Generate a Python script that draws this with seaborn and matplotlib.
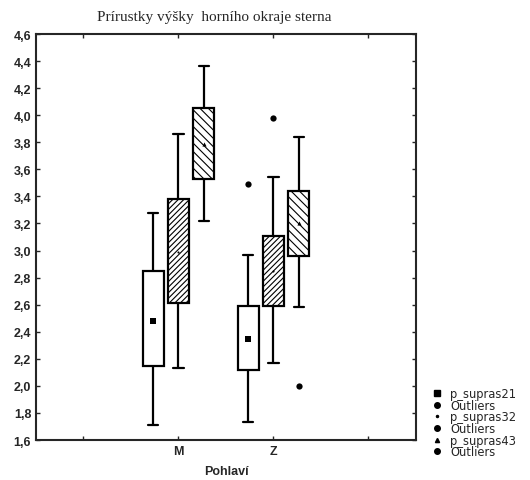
import numpy as np
import pandas as pd

import matplotlib
matplotlib.use('agg')

import matplotlib.pyplot as plt
from matplotlib.lines import Line2D
from matplotlib.ticker import FuncFormatter

import seaborn as sns

# Five-number summaries (whisker low, box low, centre, box high, whisker high)
groups = ['M', 'Z']
series = ['p_supras21', 'p_supras32', 'p_supras43']
p_supras21 = {'M': [1.71, 2.15, 2.48, 2.85, 3.28], 'Z': [1.73, 2.12, 2.35, 2.59, 2.97]}
p_supras32 = {'M': [2.13, 2.61, 2.99, 3.38, 3.86], 'Z': [2.17, 2.59, 2.85, 3.11, 3.54]}
p_supras43 = {'M': [3.22, 3.53, 3.79, 4.05, 4.36], 'Z': [2.58, 2.96, 3.20, 3.44, 3.84]}
# outliers (group, series, value)
out_group = ['Z', 'Z', 'Z']
out_series = ['p_supras21', 'p_supras32', 'p_supras43']
out_value = [3.49, 3.98, 2.00]

summaries = {'p_supras21': p_supras21, 'p_supras32': p_supras32, 'p_supras43': p_supras43}
rows = []
for s in series:
    for g in groups:
        for v in summaries[s][g]:
            rows.append({'Pohlavi': g, 'var': s, 'value': v})
df = pd.DataFrame(rows)
centres = df.groupby(['Pohlavi', 'var'], as_index=False)['value'].median()
outl = pd.DataFrame({'Pohlavi': out_group, 'var': out_series, 'value': out_value})

sns.set_style('ticks')
plt.rcParams['font.family'] = ['Liberation Sans', 'DejaVu Sans']
plt.rcParams['hatch.linewidth'] = 0.8

fig = plt.figure(figsize=(5.3, 4.81), dpi=100)
ax = fig.add_axes([36 / 530, 40 / 481, 380 / 530, 406 / 481])

hatches = {'p_supras21': '', 'p_supras32': '//////', 'p_supras43': '\\\\\\\\'}
markers = {'p_supras21': 's', 'p_supras32': '.', 'p_supras43': '^'}
msizes = {'p_supras21': 5, 'p_supras32': 3, 'p_supras43': 3}

for s in series:
    sub = df[df['var'] == s]
    sns.boxplot(data=sub, x='Pohlavi', y='value', hue='var', hue_order=series,
                order=groups, palette=['white'] * 3, linecolor='black', linewidth=1.6,
                whis=(0, 100), showfliers=False, dodge=True, gap=0.16, legend=False,
                ax=ax, boxprops=dict(hatch=hatches[s]),
                medianprops=dict(linewidth=0))
    sns.stripplot(data=centres[centres['var'] == s], x='Pohlavi', y='value', hue='var',
                  hue_order=series, order=groups, dodge=True, jitter=False,
                  palette=['black'] * 3, marker=markers[s], size=msizes[s],
                  linewidth=0, legend=False, ax=ax, zorder=5)
    sns.stripplot(data=outl[outl['var'] == s], x='Pohlavi', y='value', hue='var',
                  hue_order=series, order=groups, dodge=True, jitter=False,
                  palette=['black'] * 3, marker='o', size=4.5,
                  linewidth=0, legend=False, ax=ax, zorder=5)

ax.set_xlim(-1.5, 2.5)
ax.set_ylim(1.6, 4.6)
ax.set_xticks([-1, 0, 1, 2])
ax.set_xticklabels(['', 'M', 'Z', ''], fontweight='bold', fontsize=9)
ax.set_yticks(np.arange(1.6, 4.61, 0.2))
ax.yaxis.set_major_formatter(FuncFormatter(lambda v, p: f'{v:.1f}'.replace('.', ',')))
ax.tick_params(axis='both', direction='in', length=3, width=1, labelsize=9,
               top=True, right=True)
for lab in ax.get_yticklabels():
    lab.set_fontweight('bold')
for sp in ax.spines.values():
    sp.set_visible(True)
    sp.set_linewidth(1.5)
ax.set_xlabel('Pohlaví', fontsize=9, fontweight='bold', labelpad=6)
ax.set_ylabel('')
ax.set_title('Prírustky výšky  horního okraje sterna', fontfamily='Liberation Serif',
             fontsize=11, pad=10, x=0.47)

handles = [
    Line2D([], [], ls='none', marker='s', ms=4, color='black'),
    Line2D([], [], ls='none', marker='o', ms=4, color='black'),
    Line2D([], [], ls='none', marker='.', ms=3, color='black'),
    Line2D([], [], ls='none', marker='o', ms=4, color='black'),
    Line2D([], [], ls='none', marker='^', ms=3, color='black'),
    Line2D([], [], ls='none', marker='o', ms=4, color='black'),
]
labels = ['p_supras21', 'Outliers', 'p_supras32', 'Outliers', 'p_supras43', 'Outliers']
fig.legend(handles, labels, loc='lower left', bbox_to_anchor=(427 / 530, 16 / 481),
           frameon=False, prop={'family': 'DejaVu Sans', 'size': 8.3},
           handlelength=0.8, handletextpad=0.7, labelspacing=-0.12, borderpad=0)

fig.savefig('out.png', dpi=100)
